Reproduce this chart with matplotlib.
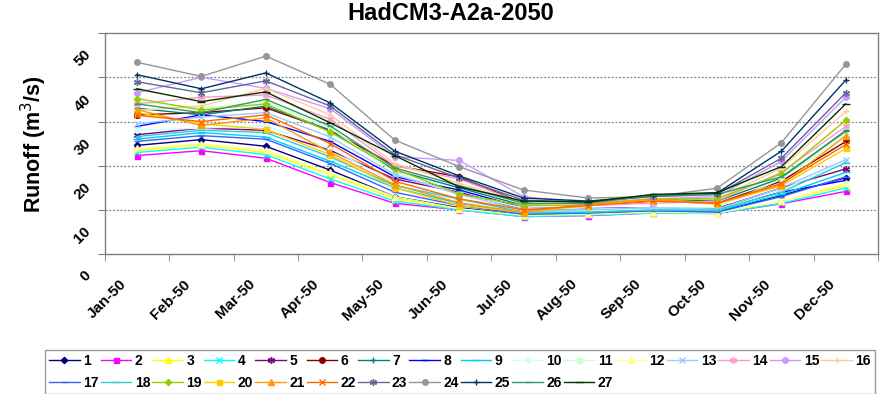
import matplotlib
matplotlib.use("Agg")
import matplotlib.pyplot as plt
from matplotlib.transforms import ScaledTranslation
import numpy as np

plt.rcParams['font.family'] = ['Liberation Sans', 'DejaVu Sans']

months = ["Jan-50", "Feb-50", "Mar-50", "Apr-50", "May-50", "Jun-50",
          "Jul-50", "Aug-50", "Sep-50", "Oct-50", "Nov-50", "Dec-50"]

# monthly runoff per model run (m3/s)
run1 = [24.6, 25.9, 24.4, 19.0, 13.0, 10.5, 8.8, 9.2, 9.5, 9.5, 13.3, 17.3]
run2 = [22.3, 23.4, 21.7, 16.2, 11.5, 10.0, 8.5, 8.7, 9.3, 9.2, 11.4, 14.2]
run3 = [23.5, 24.7, 23.0, 18.0, 12.5, 10.2, 8.6, 9.0, 9.4, 9.3, 12.0, 15.5]
run4 = [23.0, 24.2, 22.5, 17.0, 12.0, 10.0, 8.5, 8.8, 9.3, 9.2, 11.5, 15.0]
run5 = [27.0, 28.5, 28.0, 23.5, 17.0, 14.0, 10.0, 10.2, 10.5, 10.3, 15.0, 19.3]
run6 = [31.5, 32.0, 33.1, 28.0, 20.0, 17.5, 11.5, 11.0, 12.0, 11.5, 16.5, 25.5]
run7 = [33.0, 31.5, 33.5, 28.0, 19.0, 15.0, 11.0, 11.2, 12.5, 12.0, 17.2, 28.0]
run8 = [28.9, 31.5, 30.0, 25.5, 17.5, 14.5, 10.5, 10.3, 10.5, 10.5, 14.0, 16.7]
run9 = [26.0, 27.5, 26.5, 21.0, 15.0, 11.5, 9.3, 9.5, 10.0, 9.8, 13.5, 18.5]
run10 = [28.0, 28.5, 29.0, 24.0, 16.0, 12.0, 9.5, 9.8, 10.2, 10.0, 14.5, 21.0]
run11 = [34.5, 33.0, 34.5, 28.5, 18.5, 13.5, 10.5, 10.2, 10.5, 10.5, 17.0, 27.0]
run12 = [23.9, 25.0, 23.5, 18.5, 13.0, 10.3, 8.8, 9.0, 9.5, 9.3, 12.0, 16.0]
run13 = [29.5, 31.0, 32.0, 26.5, 18.0, 13.5, 10.0, 10.0, 10.5, 10.2, 15.0, 21.4]
run14 = [34.0, 35.5, 36.0, 30.5, 20.0, 17.0, 11.5, 11.0, 11.5, 12.0, 18.5, 28.9]
run15 = [36.5, 40.0, 37.5, 32.9, 22.0, 21.2, 13.0, 11.5, 12.5, 13.0, 21.0, 35.5]
run16 = [32.5, 33.5, 37.5, 31.5, 20.5, 16.0, 11.5, 11.0, 12.5, 12.5, 19.5, 32.3]
run17 = [25.5, 26.8, 26.0, 20.5, 14.0, 11.0, 9.0, 9.3, 9.8, 9.5, 13.0, 17.5]
run18 = [26.6, 28.0, 27.5, 22.0, 15.5, 12.5, 9.5, 9.5, 10.0, 10.0, 14.0, 20.7]
run19 = [35.2, 32.6, 34.0, 27.6, 19.3, 13.6, 11.0, 11.0, 12.5, 12.5, 18.2, 30.3]
run20 = [32.0, 29.5, 28.2, 22.5, 15.0, 11.0, 9.5, 11.0, 12.3, 11.3, 15.5, 23.9]
run21 = [32.7, 29.1, 30.8, 23.0, 15.7, 11.6, 9.4, 11.4, 12.4, 11.5, 15.7, 26.8]
run22 = [31.4, 30.0, 31.5, 25.0, 16.5, 12.5, 10.0, 11.0, 12.0, 11.5, 16.0, 24.8]
run23 = [39.0, 36.5, 39.2, 33.5, 22.5, 17.2, 12.2, 11.8, 13.0, 13.5, 21.7, 36.5]
run24 = [43.4, 40.2, 44.8, 38.4, 25.8, 19.8, 14.5, 12.7, 13.0, 14.9, 25.2, 43.0]
run25 = [40.6, 37.4, 41.0, 34.2, 23.3, 17.7, 12.7, 12.0, 13.2, 13.8, 23.3, 39.4]
run26 = [34.0, 32.0, 35.0, 29.0, 19.5, 15.5, 11.5, 11.5, 13.3, 13.5, 17.5, 27.8]
run27 = [37.4, 34.5, 36.7, 29.7, 22.3, 15.2, 12.0, 11.8, 13.5, 13.9, 19.8, 34.0]

runs = [run1, run2, run3, run4, run5, run6, run7, run8, run9, run10,
        run11, run12, run13, run14, run15, run16, run17, run18, run19,
        run20, run21, run22, run23, run24, run25, run26, run27]
labels = [str(i) for i in range(1, 28)]

colors = ["#000080", "#FF00FF", "#FFFF00", "#00FFFF", "#800080", "#800000",
          "#008080", "#0000FF", "#00CCFF", "#CCFFFF", "#CCFFCC", "#FFFF99",
          "#99CCFF", "#FF99CC", "#CC99FF", "#FFCC99", "#3366FF", "#33CCCC",
          "#99CC00", "#FFCC00", "#FF9900", "#FF6600", "#666699", "#969696",
          "#003366", "#339966", "#003300"]
# marker cycle: diamond, square, triangle, x, star, circle, plus, dash, long dash
mcycle = [("D", 3.2), ("s", 3.6), ("^", 4), ("x", 4), ((6, 2, 0), 5),
          ("o", 4), ("+", 5), ("_", 4), ("_", 6)]

fig = plt.figure(figsize=(8.87, 3.94), dpi=100)
ax = fig.add_axes([0.118, 0.355, 0.872, 0.561])

x = np.arange(len(months))
handles = []
for i, vals in enumerate(runs):
    m, ms = mcycle[i % 9]
    h, = ax.plot(x, vals, color=colors[i], lw=1.0, marker=m, markersize=ms,
                 markeredgewidth=1.0, label=labels[i])
    handles.append(h)

ax.set_xlim(-0.5, 11.5)
ax.set_ylim(0, 50)
ax.set_yticks(np.arange(0, 51, 10))
ax.set_yticklabels([str(v) for v in range(0, 51, 10)], rotation=45,
                   fontsize=11, fontweight="bold")
ax.set_xticks(x)
ax.set_xticklabels(months, rotation=45, ha="right", va="top",
                   fontsize=11, fontweight="bold")
ax.set_xticks(np.arange(-0.5, 12, 1), minor=True)
ax.tick_params(axis="x", which="major", length=0, pad=2)
ax.tick_params(axis="x", which="minor", length=5, color="#808080")
ax.tick_params(axis="y", length=5, color="#808080", pad=3)

for lab in ax.get_xticklabels():
    lab.set_transform(lab.get_transform() + ScaledTranslation(-0.08, -0.2, fig.dpi_scale_trans))
for lab in ax.get_yticklabels():
    lab.set_transform(lab.get_transform() + ScaledTranslation(0.0, -0.2, fig.dpi_scale_trans))

for yv in [10, 20, 30, 40]:
    ax.axhline(yv, color="#808080", lw=0.9, ls=(0, (1.5, 1.5)), zorder=0)
for s in ax.spines.values():
    s.set_color("#808080")
    s.set_linewidth(1.0)

ax.set_ylabel("Runoff (m$^3$/s)", fontsize=15.5, fontweight="bold")
ax.yaxis.set_label_coords(-0.072, 0.5)
fig.suptitle("HadCM3-A2a-2050", x=0.508, y=0.995, fontsize=17,
             fontweight="bold", va="top")

# legend: first row 1-16, second row 17-27
order = []
for k in range(11):
    order += [k, k + 16]
order += [11, 12, 13, 14, 15]
leg = fig.legend([handles[k] for k in order], [labels[k] for k in order],
                 ncol=16, loc="upper left", mode="expand",
                 bbox_to_anchor=(45 / 887, 0.0, 830 / 887, 1 - 350 / 394),
                 borderaxespad=0.0, prop={"weight": "bold", "size": 10},
                 frameon=True, fancybox=False, edgecolor="#808080",
                 handlelength=2.2, handletextpad=0.25, columnspacing=0.4,
                 borderpad=0.3, labelspacing=0.55)
leg.get_frame().set_linewidth(1.0)

fig.savefig("out.png", dpi=100)
